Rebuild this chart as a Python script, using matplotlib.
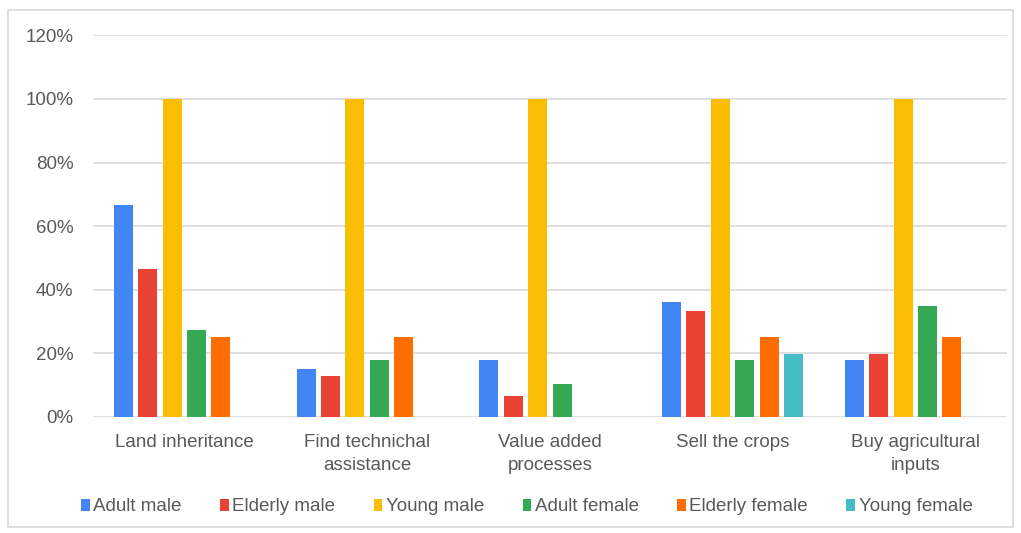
import numpy as np
import matplotlib
matplotlib.use('Agg')
import matplotlib.pyplot as plt
from matplotlib.patches import Rectangle

plt.rcParams['font.family'] = ['Liberation Sans', 'DejaVu Sans']

categories = ['Land inheritance', 'Find technichal\nassistance', 'Value added\nprocesses',
              'Sell the crops', 'Buy agricultural\ninputs']
groups = ['Adult male', 'Elderly male', 'Young male', 'Adult female', 'Elderly female', 'Young female']
colors = ['#4285F4', '#EA4335', '#FBBC04', '#34A853', '#FF6D01', '#46BDC6']

adult_male = [66.7, 15.0, 17.9, 36.3, 17.9]
elderly_male = [46.5, 13.0, 6.7, 33.2, 19.7]
young_male = [100, 100, 100, 100, 100]
adult_female = [27.2, 17.9, 10.5, 17.9, 34.9]
elderly_female = [25.0, 25.0, 0, 25.0, 25.0]
young_female = [0, 0, 0, 19.7, 0]
series = [adult_male, elderly_male, young_male, adult_female, elderly_female, young_female]

fig = plt.figure(figsize=(10.21, 5.33), dpi=100)
ax = fig.add_axes([0.091, 0.2177, 0.895, 0.716])

x = np.arange(len(categories))
slot = 0.1335
width = 0.104
for i, (vals, name, c) in enumerate(zip(series, groups, colors)):
    ax.bar(x + (i - 2.5) * slot, np.array(vals) / 100, width, color=c, label=name, zorder=3)

ax.set_xlim(-0.5, 4.5)
ax.set_ylim(0, 1.2)
ax.set_yticks(np.arange(0, 1.21, 0.2))
ax.set_yticklabels(['{:.0f}%'.format(v * 100) for v in np.arange(0, 1.21, 0.2)])
ax.set_xticks(x)
ax.set_xticklabels(categories, linespacing=1.4)
ax.grid(axis='y', color='#d9d9d9', linewidth=1.2, zorder=0)
for s in ax.spines.values():
    s.set_visible(False)
ax.tick_params(axis='both', length=0, labelsize=13.5, colors='#595959')
ax.tick_params(axis='y', pad=14)
ax.tick_params(axis='x', pad=12.5)

fig.legend(loc='center', bbox_to_anchor=(0.516, 0.049), ncol=6, frameon=False,
           fontsize=13.5, handlelength=0.45, handleheight=0.6, handletextpad=0.2,
           columnspacing=2.05, labelcolor='#595959')

fig.patches.append(Rectangle((0.008, 0.012), 0.984, 0.97, transform=fig.transFigure,
                             fill=False, edgecolor='#d9d9d9', linewidth=1.2))

fig.savefig('out.png', dpi=100, facecolor='white')
